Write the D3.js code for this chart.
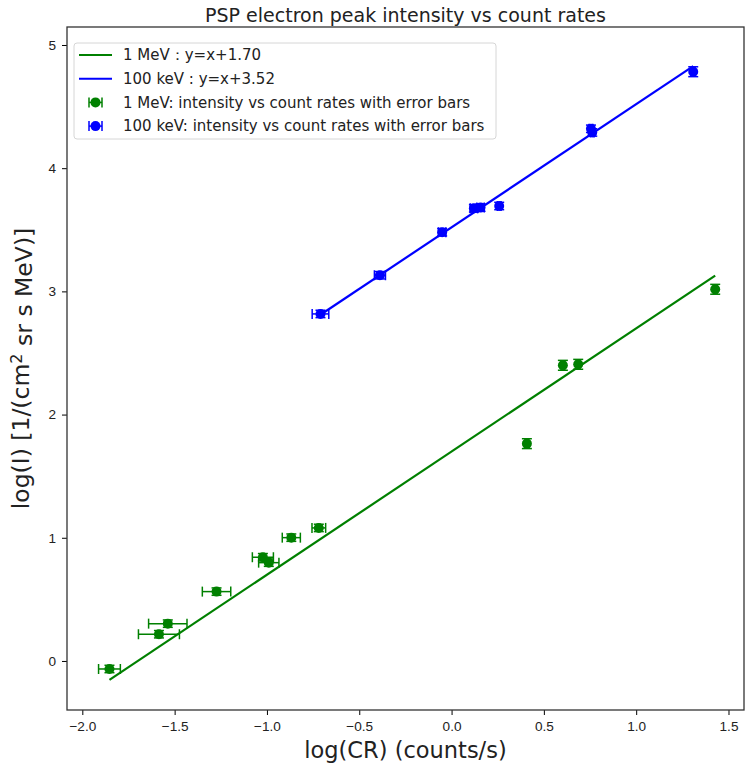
<!DOCTYPE html>
<head>
<meta charset="utf-8">
<script src="https://d3js.org/d3.v7.min.js"></script>
<style>
body { margin: 0; background: #fff; }
svg { display: block; font-family: "DejaVu Sans", sans-serif; }
.tick text { font-size: 13.6px; fill: #222; }
.legend text { font-size: 15px; fill: #222; }
</style>
</head>
<body>
<svg width="746" height="770"></svg>
<script>
// 1 MeV points: log(CR), log(I), x error, y error
var meX    = [-1.853, -1.585, -1.537, -1.273, -1.022, -0.990, -0.868, -0.719, 0.408, 0.603, 0.686, 1.428];
var meY    = [-0.065,  0.217,  0.303,  0.563,  0.842,  0.798,  1.001,  1.080, 1.764, 2.400, 2.408, 3.017];
var meXerr = [ 0.059,  0.111,  0.104,  0.077,  0.057,  0.055,  0.049,  0.037, 0.010, 0.010, 0.010, 0.010];
var meYerr = [ 0.03,   0.03,   0.03,   0.03,   0.03,   0.03,   0.03,   0.03,  0.04,  0.04,  0.04,  0.04];

// 100 keV points
var keX    = [-0.710, -0.388, -0.051, 0.121, 0.157, 0.258, 0.755, 0.762, 1.309];
var keY    = [ 2.817,  3.131,  3.480, 3.674, 3.680, 3.693, 4.320, 4.290, 4.783];
var keXerr = [ 0.045,  0.030,  0.020, 0.020, 0.020, 0.010, 0.010, 0.010, 0.010];
var keYerr = [ 0.03,   0.03,   0.03,  0.03,  0.03,  0.03,  0.03,  0.03,  0.04];

var meB = 1.70, keB = 3.52;
var xTicks = [-2.0, -1.5, -1.0, -0.5, 0.0, 0.5, 1.0, 1.5];
var yTicks = [0, 1, 2, 3, 4, 5];

var legendLabels = ["1 MeV\uff1ay=x+1.70", "100 keV : y=x+3.52",
  "1 MeV: intensity vs count rates with error bars",
  "100 keV: intensity vs count rates with error bars"];

var green = "#008000", blue = "#0000ff";

var svg = d3.select("svg");
var L = 67, R = 744, T = 27, B = 710;

var x = d3.scaleLinear().domain([-2.083, 1.584]).range([L, R]);
var y = d3.scaleLinear().domain([-0.398, 5.146]).range([B, T]);

// axes
svg.append("g").attr("transform", "translate(0," + B + ")")
  .call(d3.axisBottom(x).tickValues(xTicks).tickFormat(d3.format(".1f")).tickSize(5).tickPadding(6))
  .call(function(g) { g.select(".domain").remove(); });
svg.append("g").attr("transform", "translate(" + L + ",0)")
  .call(d3.axisLeft(y).tickValues(yTicks).tickFormat(d3.format("d")).tickSize(5).tickPadding(6))
  .call(function(g) { g.select(".domain").remove(); });
svg.selectAll(".tick text").text(function() { return this.textContent.replace("-", "\u2212"); });

function drawSeries(xs, ys, xe, ye, b, col) {
  var g = svg.append("g");
  var ext = d3.extent(xs);
  g.append("line")
    .attr("x1", x(ext[0])).attr("y1", y(ext[0] + b))
    .attr("x2", x(ext[1])).attr("y2", y(ext[1] + b))
    .attr("stroke", col).attr("stroke-width", 2.2);
  xs.forEach(function(v, i) {
    var px = x(v), py = y(ys[i]);
    var x0 = x(v - xe[i]), x1 = x(v + xe[i]);
    var y0 = y(ys[i] - ye[i]), y1 = y(ys[i] + ye[i]);
    g.append("line").attr("x1", x0).attr("x2", x1).attr("y1", py).attr("y2", py)
      .attr("stroke", col).attr("stroke-width", 1.5);
    g.append("line").attr("x1", px).attr("x2", px).attr("y1", y0).attr("y2", y1)
      .attr("stroke", col).attr("stroke-width", 1.5);
    [x0, x1].forEach(function(c) {
      g.append("line").attr("x1", c).attr("x2", c).attr("y1", py - 5).attr("y2", py + 5)
        .attr("stroke", col).attr("stroke-width", 1.5);
    });
    [y0, y1].forEach(function(c) {
      g.append("line").attr("x1", px - 5).attr("x2", px + 5).attr("y1", c).attr("y2", c)
        .attr("stroke", col).attr("stroke-width", 1.5);
    });
    g.append("circle").attr("cx", px).attr("cy", py).attr("r", 5).attr("fill", col);
  });
}
drawSeries(meX, meY, meXerr, meYerr, meB, green);
drawSeries(keX, keY, keXerr, keYerr, keB, blue);

// frame
svg.append("rect").attr("x", L).attr("y", T).attr("width", R - L).attr("height", B - T)
  .attr("fill", "none").attr("stroke", "#333").attr("stroke-width", 1.3);

// legend
var lg = svg.append("g").attr("class", "legend");
lg.append("rect").attr("x", 74).attr("y", 43).attr("width", 422).attr("height", 96).attr("rx", 3)
  .attr("fill", "#fff").attr("fill-opacity", 0.8).attr("stroke", "#d6d6d6");
var cols = [green, blue, green, blue];
legendLabels.forEach(function(t, i) {
  var ly = 55 + i * 23.7;
  if (i < 2) {
    lg.append("line").attr("x1", 79).attr("x2", 112).attr("y1", ly).attr("y2", ly)
      .attr("stroke", cols[i]).attr("stroke-width", 2);
  } else {
    lg.append("line").attr("x1", 89).attr("x2", 102).attr("y1", ly).attr("y2", ly)
      .attr("stroke", cols[i]).attr("stroke-width", 1.5);
    [89, 102].forEach(function(c) {
      lg.append("line").attr("x1", c).attr("x2", c).attr("y1", ly - 5).attr("y2", ly + 5)
        .attr("stroke", cols[i]).attr("stroke-width", 1.5);
    });
    lg.append("circle").attr("cx", 95.5).attr("cy", ly).attr("r", 5).attr("fill", cols[i]);
  }
  lg.append("text").attr("x", 123).attr("y", ly).attr("dy", "0.35em").text(t);
});

// title and labels
svg.append("text").attr("x", (L + R) / 2).attr("y", 22).attr("text-anchor", "middle")
  .style("font-size", "19px").attr("fill", "#222").text("PSP electron peak intensity vs count rates");
svg.append("text").attr("x", (L + R) / 2).attr("y", 758).attr("text-anchor", "middle")
  .style("font-size", "22.5px").attr("fill", "#222").text("log(CR) (counts/s)");
var yl = svg.append("text").attr("transform", "translate(29," + (T + B) / 2 + ") rotate(-90)")
  .attr("text-anchor", "middle").style("font-size", "23.5px").attr("fill", "#222");
yl.append("tspan").text("log(I) [1/(cm");
yl.append("tspan").attr("dy", "-0.45em").style("font-size", "16px").text("2");
yl.append("tspan").attr("dy", "0.45em").text(" sr s MeV)]");
</script>
</body>
